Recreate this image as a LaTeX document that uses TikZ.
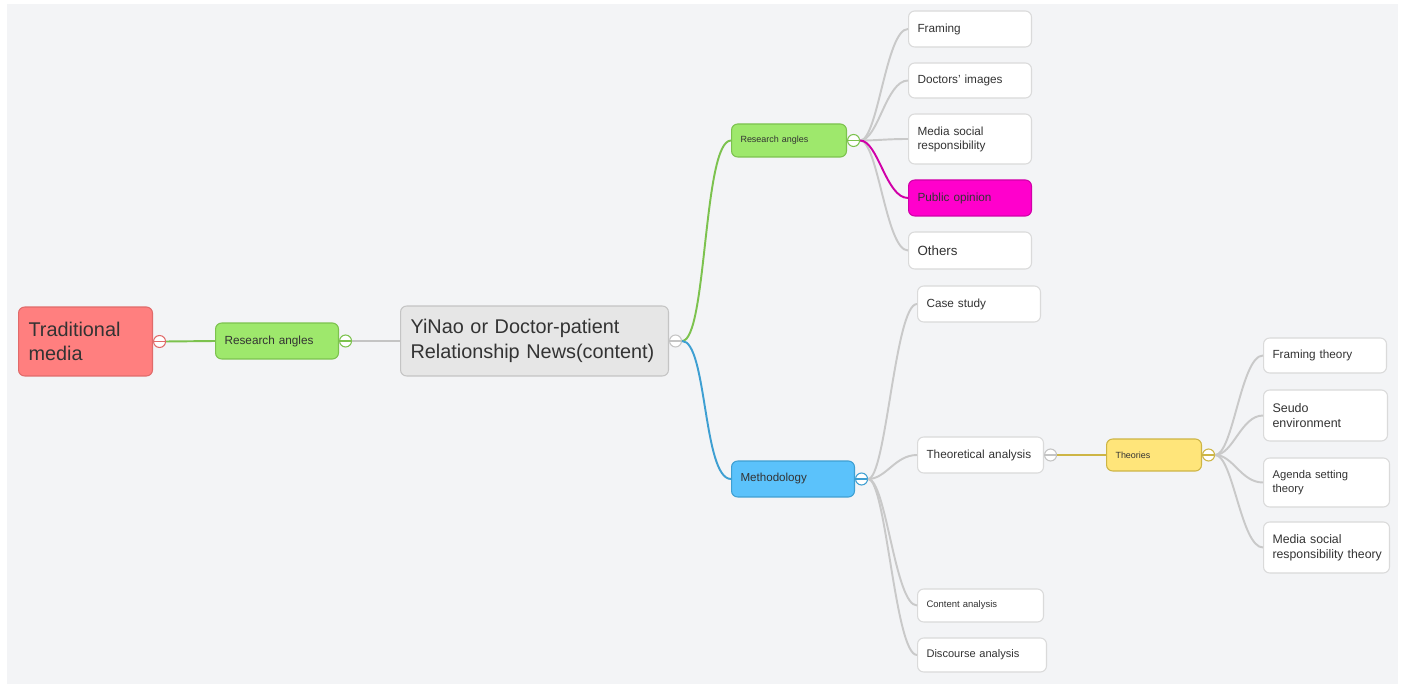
\documentclass[tikz,border=0pt]{standalone}
\usepackage{fontspec}
\setmainfont{Liberation Sans}
\usepackage{tikz}
\usetikzlibrary{positioning}

\definecolor{bg}{HTML}{F3F4F6}
\definecolor{txt}{HTML}{333333}
\definecolor{leafline}{HTML}{DADADA}
\definecolor{conn}{HTML}{C9C9C9}
\definecolor{redfill}{HTML}{FF7F7F}
\definecolor{redline}{HTML}{E06A6A}
\definecolor{greenfill}{HTML}{9EE86C}
\definecolor{greenline}{HTML}{7CC24E}
\definecolor{greyfill}{HTML}{E6E6E6}
\definecolor{greyline}{HTML}{C4C4C4}
\definecolor{bluefill}{HTML}{5BC2FB}
\definecolor{blueline}{HTML}{3E9FD2}
\definecolor{pinkfill}{HTML}{FF00CC}
\definecolor{pinkline}{HTML}{D000A8}
\definecolor{yellowfill}{HTML}{FFE57A}
\definecolor{yellowline}{HTML}{CDB545}

\tikzset{
  box/.style={rounded corners=3.5pt, anchor=west, align=left, inner xsep=0.18cm,
    inner ysep=0pt, text=txt, line width=0.6pt},
  leaf/.style={box, draw=leafline, fill=white, font=\fontsize{6.7}{8}\selectfont},
  topic/.style 2 args={box, draw=#1, fill=#2},
  toggle/.style={circle, draw=#1, fill=white, minimum size=0.24cm, inner sep=0pt,
    line width=0.6pt, path picture={\draw[#1, line width=0.6pt]
      (path picture bounding box.west) -- (path picture bounding box.east);}},
  link/.style={line width=1.1pt, draw=#1},
}

\begin{document}
\begin{tikzpicture}[x=0.02cm, y=-0.02cm]
  \useasboundingbox (0,0) rectangle (1402,685);
  \fill[white] (0,0) rectangle (1402,685);
  \fill[bg] (7,4) rectangle (1398,684);

  % Root and first level
  \node[topic={redline}{redfill}, inner xsep=0.2cm, text width=2.28cm, minimum height=1.38cm,
    font=\fontsize{11.3}{13.7}\selectfont] (trad) at (18,341.5) {Traditional\\media};
  \node[toggle=redline, right=0pt of trad] (tradT) {};

  \node[topic={greenline}{greenfill}, text width=2.10cm, minimum height=0.72cm,
    font=\fontsize{6.7}{8}\selectfont] (angles) at (215,341) {Research angles};
  \node[toggle=greenline, right=0pt of angles] (anglesT) {};

  \node[topic={greyline}{greyfill}, inner xsep=0.2cm, text width=4.96cm, minimum height=1.40cm,
    font=\fontsize{11.3}{14}\selectfont] (news) at (400,341)
    {\mbox{YiNao or Doctor-patient}\\\mbox{Relationship News(content)}};
  \node[toggle=greyline, right=0pt of news] (newsT) {};

  % Second level
  \node[topic={greenline}{greenfill}, text width=1.94cm, minimum height=0.66cm,
    font=\fontsize{5.1}{6}\selectfont] (subangles) at (731,140.5) {Research angles};
  \node[toggle=greenline, right=0pt of subangles] (subanglesT) {};

  \node[topic={blueline}{bluefill}, text width=2.10cm, minimum height=0.72cm,
    font=\fontsize{6.6}{8}\selectfont] (method) at (731,479) {Methodology};
  \node[toggle=blueline, right=0pt of method] (methodT) {};

  % Research angles
  \node[leaf, text width=2.10cm, minimum height=0.72cm] (framing) at (908,29) {Framing};
  \node[leaf, text width=2.10cm, minimum height=0.70cm] (images) at (908,80.5) {Doctors' images};
  \node[leaf, text width=2.10cm, minimum height=1.00cm] (duty) at (908,139) {Media social\\responsibility};
  \node[leaf, draw=pinkline, fill=pinkfill, text width=2.10cm, minimum height=0.72cm] (opinion) at (908,198) {Public opinion};
  \node[leaf, text width=2.10cm, minimum height=0.74cm, font=\fontsize{7.6}{9}\selectfont] (others) at (908,250.5) {Others};

  % Methodology
  \node[leaf, text width=2.10cm, minimum height=0.72cm] (casestudy) at (917,304) {Case study};
  \node[leaf, text width=2.16cm, minimum height=0.72cm] (theoretical) at (917,455) {Theoretical analysis};
  \node[toggle=greyline, right=0pt of theoretical] (theoreticalT) {};
  \node[leaf, text width=2.16cm, minimum height=0.66cm, font=\fontsize{5.4}{6.5}\selectfont] (content) at (917,605.5) {Content analysis};
  \node[leaf, text width=2.22cm, minimum height=0.68cm, font=\fontsize{6.3}{7.5}\selectfont] (discourse) at (917,655) {Discourse analysis};

  % Theories
  \node[topic={yellowline}{yellowfill}, text width=1.54cm, minimum height=0.64cm,
    font=\fontsize{5.1}{6}\selectfont] (theories) at (1106,455) {Theories};
  \node[toggle=yellowline, right=0pt of theories] (theoriesT) {};

  \node[leaf, text width=2.10cm, minimum height=0.70cm] (ftheory) at (1263,355.5) {Framing theory};
  \node[leaf, text width=2.12cm, minimum height=1.02cm, font=\fontsize{7.1}{8.5}\selectfont] (seudo) at (1263,415.5) {Seudo\\environment};
  \node[leaf, text width=2.16cm, minimum height=0.98cm, font=\fontsize{6.4}{7.8}\selectfont] (agenda) at (1263,482.5) {Agenda setting\\theory};
  \node[leaf, text width=2.16cm, minimum height=1.02cm, font=\fontsize{7}{8.5}\selectfont] (dutytheory) at (1263,547.5) {Media social\\\mbox{responsibility theory}};

  % Connectors
  \draw[link=greenline] (tradT.east) -- (angles.west);
  \draw[link=greyline] (anglesT.east) -- (news.west);
  \draw[link=greenline] (newsT.east) .. controls +(25,0) and +(-28,0) .. (subangles.west);
  \draw[link=blueline] (newsT.east) .. controls +(25,0) and +(-28,0) .. (method.west);

  \foreach \n in {framing,images,duty,others}
    \draw[link=conn] (subanglesT.east) .. controls +(18,0) and +(-22,0) .. (\n.west);
  \draw[link=pinkline] (subanglesT.east) .. controls +(18,0) and +(-22,0) .. (opinion.west);

  \foreach \n in {casestudy,theoretical,content,discourse}
    \draw[link=conn] (methodT.east) .. controls +(18,0) and +(-22,0) .. (\n.west);

  \draw[link=yellowline] (theoreticalT.east) -- (theories.west);

  \foreach \n in {ftheory,seudo,agenda,dutytheory}
    \draw[link=conn] (theoriesT.east) .. controls +(18,0) and +(-22,0) .. (\n.west);
\end{tikzpicture}
\end{document}
